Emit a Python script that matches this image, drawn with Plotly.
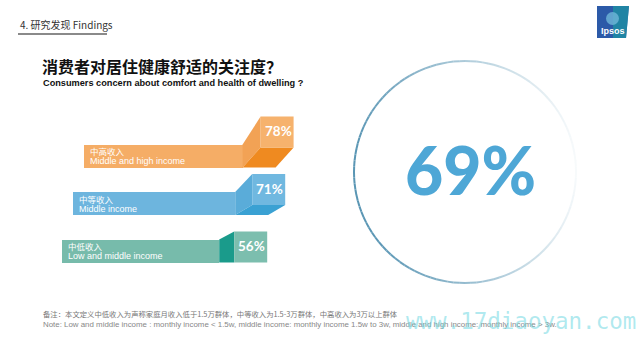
import math
import plotly.graph_objects as go

# ---------------- data ----------------
categories_cn = ["中高收入", "中等收入", "中低收入"]
categories_en = ["Middle and high income", "Middle income", "Low and middle income"]
values = [78, 71, 56]
overall_value = 69

title_cn = "消费者对居住健康舒适的关注度？"
title_en = "Consumers concern about comfort and health of dwelling ?"
header = "4. 研究发现 Findings"
note_cn = "备注：本文定义中低收入为声称家庭月收入低于1.5万群体，中等收入为1.5-3万群体，中高收入为3万以上群体"
note_en = ("Note: Low and middle income : monthly income < 1.5w, middle income: monthly income 1.5w to 3w, "
           "middle and high income: monthly income > 3w.")
watermark = "www.17diaoyan.com"

# ---------------- styles / layout ----------------
W, H = 640, 360
X_ORIGIN_PX, X_PX = 200.0, 1.2      # value axis: pixel = origin + 1.2 * value
ROW0_PX, ROW_PX = 156.0, 47.5       # row axis: pixel = row0 + 47.5 * row
bar_left_px = [84, 73, 62]
lift_px = [20, 10, 0]
depth_px = [18, 17, 15]
BLOCK_W, BLOCK_H, BAR_H = 33, 31, 23

bar_colors = ["#F5AD66", "#6DB5DE", "#77BBAB"]
front_colors = ["#F6B26D", "#70B8E0", "#7CBEAE"]
side_colors = ["#F2A255", "#5AACD9", "#1A9B8B"]
under_colors = ["#EF8A20", "#3AA1D3", "#1A9B8B"]

def ux(px):  # pixel length -> value units
    return px / X_PX

def uy(px):  # pixel length -> row units
    return px / ROW_PX

rows = list(range(len(values)))
bar_end = [v - ux(BLOCK_W) - ux(d) for v, d in zip(values, depth_px)]
bar_base = [ux(p - X_ORIGIN_PX) for p in bar_left_px]

fig = go.Figure()
fig.add_trace(go.Bar(
    y=rows, x=[e - b for e, b in zip(bar_end, bar_base)], base=bar_base,
    orientation="h", width=uy(BAR_H),
    marker=dict(color=bar_colors, line=dict(width=0)),
    hoverinfo="skip", showlegend=False,
))

shapes = []
annotations = []
for i, v in enumerate(values):
    x_r = v
    x_bl = v - ux(BLOCK_W)
    x_be = bar_end[i]
    yt = i - uy(BAR_H) / 2
    yb = i + uy(BAR_H) / 2
    ybb = yb - uy(lift_px[i])
    ybt = ybb - uy(BLOCK_H)
    shapes.append(dict(type="path", xref="x", yref="y", layer="above",
                       path=f"M {x_be},{yt} L {x_bl},{ybt} L {x_bl},{ybb} L {x_be},{yb} Z",
                       fillcolor=side_colors[i], line=dict(width=0)))
    if lift_px[i] > 0:
        shapes.append(dict(type="path", xref="x", yref="y", layer="above",
                           path=f"M {x_be},{yb} L {x_be + ux(BLOCK_W)},{yb} L {x_r},{ybb} L {x_bl},{ybb} Z",
                           fillcolor=under_colors[i], line=dict(width=0)))
    shapes.append(dict(type="rect", xref="x", yref="y", layer="above",
                       x0=x_bl, x1=x_r, y0=ybt, y1=ybb,
                       fillcolor=front_colors[i], line=dict(width=0)))
    annotations.append(dict(x=(x_bl + x_r) / 2 + ux(1), y=(ybt + ybb) / 2, xref="x", yref="y",
                            yshift=1, text=f"<b>{v}%</b>", showarrow=False,
                            font=dict(family="Lato", size=13.5, color="white")))
    annotations.append(dict(x=bar_base[i] + ux(4), y=i, xref="x", yref="y", xanchor="left",
                            yshift=5, text=categories_cn[i], showarrow=False,
                            font=dict(family="Noto Sans CJK SC", size=8.5, color="white")))
    annotations.append(dict(x=bar_base[i] + ux(4), y=i, xref="x", yref="y", xanchor="left",
                            yshift=-5, text=categories_en[i], showarrow=False,
                            font=dict(family="Liberation Sans", size=9, color="white")))

# decorative circle with fading stroke (paper coords)
def P(px, py):
    return px / W, 1 - py / H

CX, CY, R = 465, 172, 111
N = 120
for k in range(N):
    a0 = 2 * math.pi * k / N
    a1 = 2 * math.pi * (k + 1) / N
    am = (a0 + a1) / 2
    t = (1 - math.cos(am)) / 2
    if math.sin(am) > 0:   # lower half (screen) slightly stronger
        t = min(1, t + 0.15 * math.sin(am))
    alpha = 0.05 + 0.95 * t ** 1.1
    x0, y0 = P(CX + R * math.cos(a0), CY + R * math.sin(a0))
    x1, y1 = P(CX + R * math.cos(a1), CY + R * math.sin(a1))
    shapes.append(dict(type="line", xref="paper", yref="paper", x0=x0, y0=y0, x1=x1, y1=y1,
                       line=dict(color=f"rgba(90,150,180,{alpha:.3f})", width=2)))

# header underline
hx0, hy0 = P(18, 34)
hx1, _ = P(107, 34)
shapes.append(dict(type="line", xref="paper", yref="paper", x0=hx0, y0=hy0, x1=hx1, y1=hy0,
                   line=dict(color="#8A8A8A", width=2)))

# Ipsos logo
lx0, ly0 = P(597, 6)
lx1, ly1 = P(629, 38)
shapes.append(dict(type="path", xref="paper", yref="paper",
                   path=f"M {lx0},{ly0} L {lx1},{ly0} L {P(626,38)[0]},{ly1} L {lx0},{ly1} Z",
                   fillcolor="#2C5AA8", line=dict(width=0)))
shapes.append(dict(type="path", xref="paper", yref="paper",
                   path=f"M {P(613,6)[0]},{ly0} L {lx1},{ly0} L {P(626,38)[0]},{ly1} L {P(613,38)[0]},{ly1} Z",
                   fillcolor="#1E8FA3", line=dict(width=0), opacity=0.8))
shapes.append(dict(type="circle", xref="paper", yref="paper",
                   x0=P(606, 12)[0], y0=P(606, 12)[1], x1=P(619, 25)[0], y1=P(619, 25)[1],
                   fillcolor="#6FB6D8", line=dict(width=0), opacity=0.8))

def ann(px, py, text, size, color, family, xanchor="left", weight=None):
    x, y = P(px, py)
    f = dict(family=family, size=size, color=color)
    if weight:
        f["weight"] = weight
    return dict(x=x, y=y, xref="paper", yref="paper", text=text, showarrow=False,
                xanchor=xanchor, yanchor="middle", font=f)

annotations += [
    ann(18, 25, header, 10, "#333333", "Noto Sans CJK SC"),
    ann(40, 66, f"<b>{title_cn}</b>", 16, "#111111", "Noto Sans CJK SC"),
    ann(41, 83, f"<b>{title_en}</b>", 9.2, "#111111", "Liberation Sans"),
    ann(470, 169, f"{overall_value}%", 66, "#4EA7D6", "Lato", xanchor="center", weight=900),
    ann(41, 313, note_cn, 7.35, "#777777", "Noto Sans CJK SC"),
    ann(41, 324, note_en, 7.9, "#888888", "Liberation Sans"),
    ann(404, 321, watermark, 22.5, "rgba(110,215,225,0.55)", "DejaVu Sans Mono"),
    ann(613, 31, "<b>Ipsos</b>", 9, "white", "Liberation Sans", xanchor="center"),
]

fig.update_layout(
    width=W, height=H, margin=dict(l=0, r=0, t=0, b=0),
    paper_bgcolor="white", plot_bgcolor="white",
    xaxis=dict(range=[ux(0 - X_ORIGIN_PX), ux(W - X_ORIGIN_PX)], visible=False, fixedrange=True),
    yaxis=dict(range=[uy(H - ROW0_PX), uy(0 - ROW0_PX)], visible=False, fixedrange=True),
    shapes=shapes, annotations=annotations, bargap=0,
)

fig.write_html("out.html", config={"displayModeBar": False},
               post_script="document.body.style.margin='0';document.body.style.overflow='hidden';")
